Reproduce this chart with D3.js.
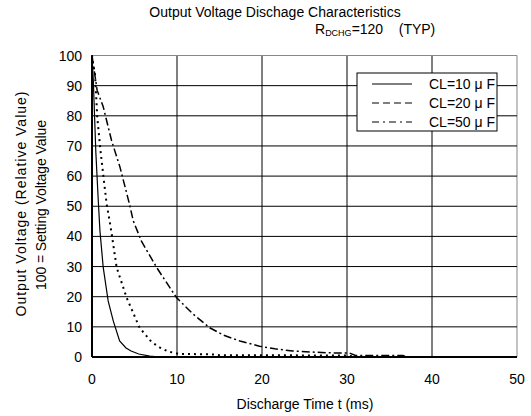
<!DOCTYPE html>
<html><head><meta charset="utf-8">
<script src="https://cdn.jsdelivr.net/npm/d3@7"></script>
<style>body{margin:0;background:#fff;} text{font-family:"Liberation Sans",Arial,sans-serif;fill:#000;}</style>
</head><body>
<svg id="c" width="531" height="416"></svg>
<script>
const xTicks = [0,10,20,30,40,50];
const yTicks = [0,10,20,30,40,50,60,70,80,90,100];
const seriesNames = ["CL=10 μ F","CL=20 μ F","CL=50 μ F"];
const cl10 = [[0,100],[0.15,92],[0.45,68],[0.74,51.8],[0.93,42],[1.32,29.7],[1.9,18.6],[2.5,12],[3.25,5.3],[4.0,3.0],[4.6,2.0],[5.5,1.0],[6.8,0.3],[8,0],[50,0]];
const cl20 = [[0,100],[0.15,97],[0.35,94],[0.62,79.5],[1.0,68.4],[1.4,58.5],[1.72,50.8],[2.2,43],[2.9,29.7],[4.07,19.7],[5.6,9.7],[7,5],[8,3.1],[9,1.8],[10.3,1.0],[14,0.9],[15,0.6],[30,0.5],[31,0],[50,0]];
const cl50 = [[0,100],[0.6,88.5],[1.32,83],[2.3,71.8],[3.3,62.9],[4.4,50.8],[4.85,45.2],[5.8,38.5],[7.6,29.7],[9.94,19.7],[11.9,14.2],[13.85,9.7],[15.5,7.2],[17.4,5.3],[19.7,3.6],[21.5,2.7],[23.6,2.0],[27.5,1.4],[30.3,1.3],[31,0.5],[36.6,0.5],[37,0],[50,0]];

const svg = d3.select("#c");
const L=92, R=517, T=55.5, B=357;
const x = d3.scaleLinear().domain([0,50]).range([L,R]);
const y = d3.scaleLinear().domain([0,100]).range([B,T]);

// grid
const g = svg.append("g");
g.selectAll("line.v").data(xTicks).enter().append("line")
  .attr("x1",d=>x(d)).attr("x2",d=>x(d)).attr("y1",T).attr("y2",B)
  .attr("stroke",d=>d===50?"#888":"#000").attr("stroke-width",1);
g.selectAll("line.h").data(yTicks).enter().append("line")
  .attr("x1",L).attr("x2",R).attr("y1",d=>y(d)).attr("y2",d=>y(d))
  .attr("stroke",d=>d===100?"#888":"#000").attr("stroke-width",1);
g.append("line").attr("x1",L).attr("x2",L).attr("y1",T).attr("y2",B).attr("stroke","#000").attr("stroke-width",2);
g.append("line").attr("x1",L).attr("x2",R).attr("y1",B).attr("y2",B).attr("stroke","#000").attr("stroke-width",2);

// tick labels
svg.selectAll("text.yt").data(yTicks).enter().append("text")
  .attr("x",L-10).attr("y",d=>y(d)+5).attr("text-anchor","end").attr("font-size",14).text(d=>d);
svg.selectAll("text.xt").data(xTicks).enter().append("text")
  .attr("x",d=>x(d)).attr("y",383.5).attr("text-anchor","middle").attr("font-size",14).text(d=>d);

// curves
const line = d3.line().x(d=>x(d[0])).y(d=>y(d[1]));
svg.append("path").datum(cl10).attr("d",line).attr("fill","none").attr("stroke","#000").attr("stroke-width",1.2);
svg.append("path").datum(cl20).attr("d",line).attr("fill","none").attr("stroke","#000").attr("stroke-width",2).attr("stroke-dasharray","2,4");
svg.append("path").datum(cl50).attr("d",line).attr("fill","none").attr("stroke","#000").attr("stroke-width",1.5).attr("stroke-dasharray","8,3,2,3");

// legend
const lg = svg.append("g");
lg.append("rect").attr("x",357).attr("y",73).attr("width",140).attr("height",58).attr("fill","#fff").attr("stroke","#000").attr("stroke-width",1);
const dashes = [null,"7,4","7,4,2,4"];
seriesNames.forEach((n,i)=>{
  const yy = 84 + i*19;
  lg.append("line").attr("x1",372).attr("x2",412).attr("y1",yy).attr("y2",yy).attr("stroke","#000").attr("stroke-width",1.2).attr("stroke-dasharray",dashes[i]);
  lg.append("text").attr("x",429).attr("y",yy+5).attr("font-size",14).text(n);
});

// titles
svg.append("text").attr("x",275).attr("y",17).attr("text-anchor","middle").attr("font-size",14).text("Output Voltage Dischage Characteristics");
const st = svg.append("text").attr("x",315).attr("y",33.5).attr("font-size",14);
st.append("tspan").text("R");
st.append("tspan").attr("font-size",9).attr("dy",2.5).text("DCHG");
st.append("tspan").attr("dy",-2.5).text("=120\u00a0\u00a0\u00a0\u00a0(TYP)");
svg.append("text").attr("x",305).attr("y",409).attr("text-anchor","middle").attr("font-size",14).text("Discharge Time t (ms)");
svg.append("text").attr("transform","translate(26,204) rotate(-90)").attr("text-anchor","middle").attr("font-size",14)
  .attr("textLength",225).attr("lengthAdjust","spacing").text("Output Voltage (Relative Value)");
svg.append("text").attr("transform","translate(46,205) rotate(-90)").attr("text-anchor","middle").attr("font-size",14)
  .attr("textLength",170).attr("lengthAdjust","spacing").text("100 = Setting Voltage Value");
</script>
</body></html>
